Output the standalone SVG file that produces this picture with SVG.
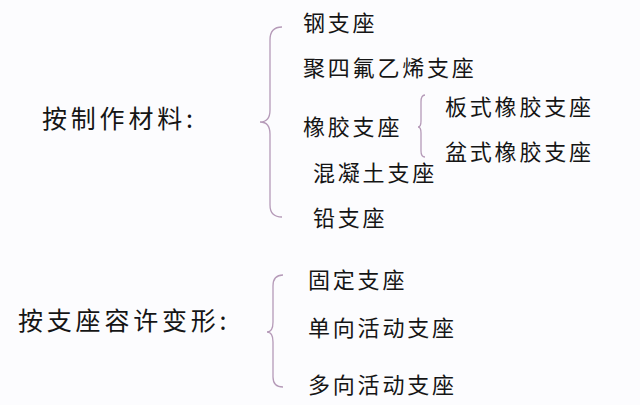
<svg xmlns="http://www.w3.org/2000/svg" width="640" height="405" viewBox="0 0 640 405">
<style>
.t{font-family:"Noto Sans CJK SC","Noto Sans",sans-serif;font-size:22px;letter-spacing:2.8px;fill:#151515}
.h{font-family:"Noto Sans CJK SC","Noto Sans",sans-serif;font-size:25px;letter-spacing:3.8px;fill:#151515}
.b{fill:none;stroke:#b59ab8;stroke-width:1.3}
</style>
<rect width="640" height="405" fill="#fcfcfe"/>
<g id="connectors">
<path class="b" d="M282 27 Q270 27 270 40 L270 110 Q270 122 260 122 Q270 122 270 134 L270 205 Q270 217 282 217"/>
<path class="b" d="M425 95 Q421 95 421 102 L421 121 Q421 127 418 127 Q421 127 421 133 L421 151 Q421 157 425 157"/>
<path class="b" d="M283 275 Q273 275 273 286 L273 322 Q273 332 267 332 Q273 332 273 342 L273 377 Q273 387 283 387"/>
</g>
<g id="cat-material"><text class="h" x="42" y="128">按制作材料:</text></g>
<g id="cat-deform"><text class="h" x="18" y="330">按支座容许变形:</text></g>
<g id="n-steel"><text class="t" x="303" y="31">钢支座</text></g>
<g id="n-ptfe"><text class="t" x="303" y="76">聚四氟乙烯支座</text></g>
<g id="n-rubber"><text class="t" x="303" y="135">橡胶支座</text></g>
<g id="n-concrete"><text class="t" x="313" y="181">混凝土支座</text></g>
<g id="n-lead"><text class="t" x="313" y="226">铅支座</text></g>
<g id="n-plate"><text class="t" x="445" y="115">板式橡胶支座</text></g>
<g id="n-pot"><text class="t" x="445" y="160">盆式橡胶支座</text></g>
<g id="n-fixed"><text class="t" x="308" y="288">固定支座</text></g>
<g id="n-uni"><text class="t" x="308" y="336">单向活动支座</text></g>
<g id="n-multi"><text class="t" x="308" y="393">多向活动支座</text></g>
</svg>
